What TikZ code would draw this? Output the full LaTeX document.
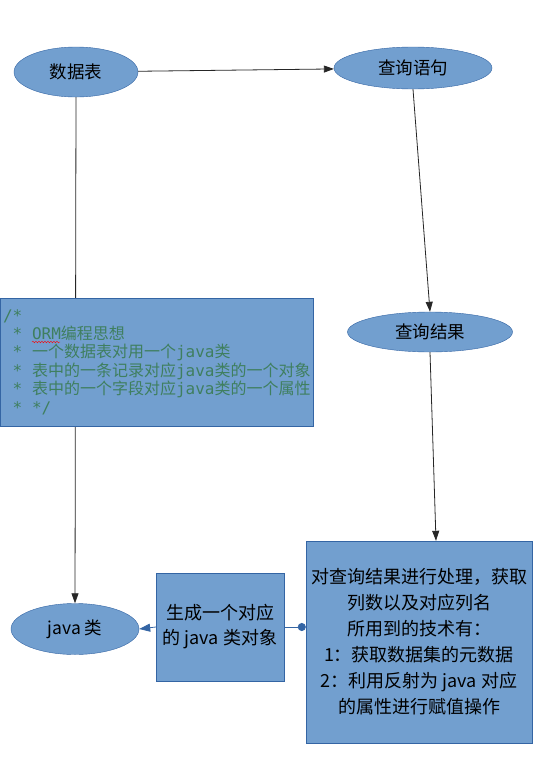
\documentclass[tikz,border=0pt]{standalone}
\usepackage{fontspec}
\setmainfont{Noto Sans CJK SC}
\setmonofont{DejaVu Sans Mono}
\newfontfamily\cjk{Noto Sans CJK SC}
\usetikzlibrary{arrows.meta,shapes.geometric,decorations.pathmorphing}

\definecolor{boxfill}{HTML}{729FCF}
\definecolor{boxdraw}{HTML}{3465A4}
\definecolor{cmtgreen}{HTML}{3F7F5F}
\newcommand\monosp{\hspace*{9.7pt}}

\begin{document}
\begin{tikzpicture}[
  x=1pt, y=-1pt,
  line/.style={-{Triangle[length=10pt,width=7pt]}, draw=black!85, line width=0.8pt},
  bline/.style={draw=boxdraw, line width=0.8pt},
  entity/.style={
    ellipse,
    draw=boxdraw,
    fill=boxfill,
    inner sep=0pt,
    font=\fontsize{17.5}{21}\selectfont
  },
  block/.style={
    draw=boxdraw,
    fill=boxfill,
    inner sep=0pt,
    align=center
  },
  comment/.style={
    draw=boxdraw,
    fill=boxfill,
    inner xsep=3pt,
    inner ysep=0pt,
    text width=307pt,
    minimum height=128pt,
    align=left,
    text=cmtgreen,
    font=\ttfamily\fontsize{16}{18.4}\selectfont
  }
]
\useasboundingbox (0,0) rectangle (537,771);

\node[entity, minimum width=124pt, minimum height=50pt] (tbl) at (76,72) {数据表};
\node[entity, minimum width=158pt, minimum height=42pt] (sql) at (413,68) {查询语句};
\node[entity, minimum width=165pt, minimum height=40pt] (res) at (430,332) {查询结果};
\node[entity, minimum width=128pt, minimum height=51pt] (cls) at (75,629) {java 类};

\node[block, minimum width=128pt, minimum height=108pt,
  font=\fontsize{18}{25}\selectfont] (gen) at (220,627)
  {生成一个对应\\的 java 类对象};
\node[block, minimum width=226pt, minimum height=202pt,
  font=\fontsize{18}{26}\selectfont] (proc) at (419,642)
  {对查询结果进行处理，获取\\列数以及对应列名\\所用到的技术有：\\1：获取数据集的元数据\\2：利用反射为 java 对应\\的属性进行赋值操作};

\draw[line] (tbl) -- (sql);
\draw[line] (tbl.south) -- (cls.north);

\node[comment] (cmt) at (156.5,362)
  {/*\\
  \monosp*\monosp ORM{\cjk 编程思想}\\
  \monosp*\monosp{\cjk 一个数据表对用一个}java{\cjk 类}\\
  \monosp*\monosp{\cjk 表中的一条记录对应}java{\cjk 类的一个对象}\\
  \monosp*\monosp{\cjk 表中的一个字段对应}java{\cjk 类的一个属性}\\
  \monosp*\monosp*/};
\draw[red, decorate, decoration={snake, amplitude=0.8pt, segment length=3pt}]
  (32,342) -- (60,342);

\draw[line] (sql.south) -- (res.north);
\draw[line] (res.south) -- ([xshift=17pt]proc.north);
\draw[bline, {Circle[length=8pt,width=8pt]}-] (gen.east -| proc.west) -- (gen.east);
\draw[bline, -{Triangle[length=11pt,width=8pt]}] (gen.west) -- (cls.east);

\end{tikzpicture}
\end{document}
